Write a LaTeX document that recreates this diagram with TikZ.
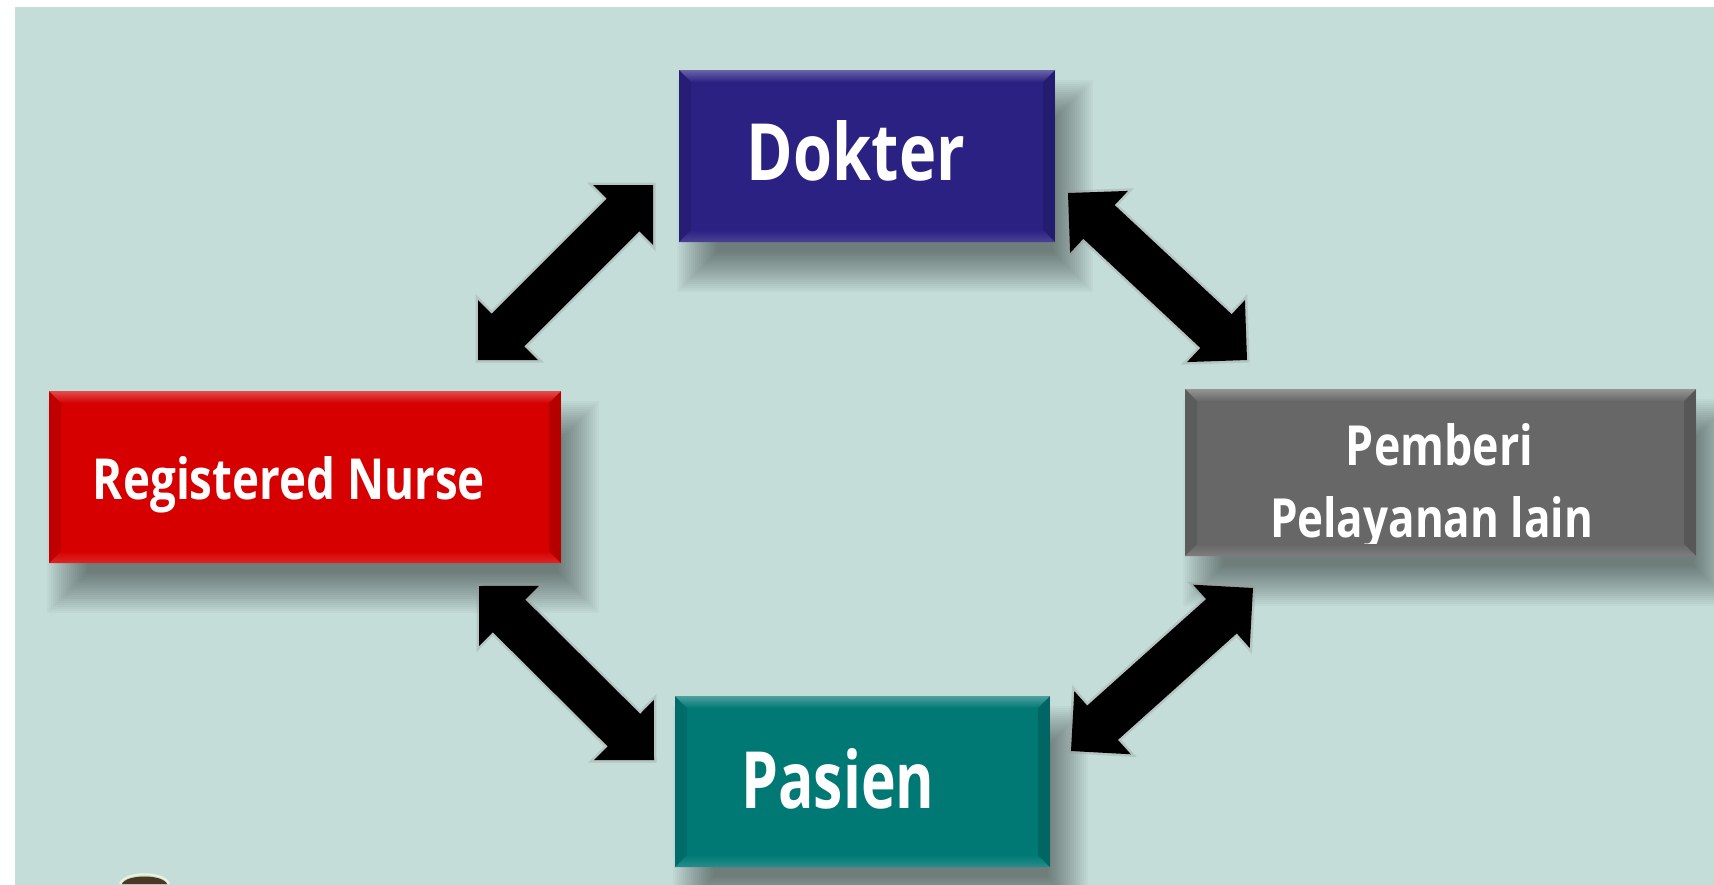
\documentclass[tikz,border=0pt]{standalone}
\usepackage{fontspec}
\newfontfamily\lblfont{Open Sans}
\usetikzlibrary{calc}
\definecolor{bgteal}{RGB}{196,221,217}
\definecolor{dokblue}{RGB}{43,33,131}
\definecolor{nursered}{RGB}{214,0,0}
\definecolor{pembgrey}{RGB}{103,103,103}
\definecolor{pasteal}{RGB}{0,121,117}
\definecolor{domebrown}{RGB}{75,55,35}

% text placed relative to the node centre: dx, baseline offset (up), width, height, text
\newcommand\placetext[5]{\makebox[0pt]{\raisebox{#2}[0pt][0pt]{\kern#1\resizebox{#3}{#4}{#5}\kern-#1}}}

\tikzset{
  box/.style={rectangle, inner sep=0pt, outer sep=0pt, text=white, font=\lblfont\bfseries},
  dblarrow/.style={fill=black, preaction={draw=gray!80, line width=5pt, opacity=0.35, line join=miter}},
}

\newcommand\bevel[3]{%
  \shade[top color=#2!70!white, bottom color=#2] (#1.north west) -- (#1.north east) -- ([xshift=-#3pt,yshift=-#3pt]#1.north east) -- ([xshift=#3pt,yshift=-#3pt]#1.north west) -- cycle;
  \shade[top color=#2, bottom color=#2!85!white] ([xshift=#3pt,yshift=#3pt]#1.south west) -- ([xshift=-#3pt,yshift=#3pt]#1.south east) -- (#1.south east) -- (#1.south west) -- cycle;
  \fill[black,opacity=0.10] (#1.north west) -- ([xshift=#3pt,yshift=-#3pt]#1.north west) -- ([xshift=#3pt,yshift=#3pt]#1.south west) -- (#1.south west) -- cycle;
  \fill[black,opacity=0.15] (#1.north east) -- ([xshift=-#3pt,yshift=-#3pt]#1.north east) -- ([xshift=-#3pt,yshift=#3pt]#1.south east) -- (#1.south east) -- cycle;
}

% soft shadow from centre (#1,#2) and size #3 x #4
\newcommand\softshadow[4]{%
  \foreach \e in {20,18,...,-20}{%
    \fill[black,opacity=0.024] ({#1-#3/2+18-\e},{#2-#4/2+30-\e}) rectangle ({#1+#3/2+18+\e},{#2+#4/2+30+\e});}}

\newcommand\dbarrow[2]{%
  \path[dblarrow] (#1) -- ($(#1)!60pt!45:(#2)$) -- ($(#1)!48.2pt!28.5:(#2)$) -- ($(#2)!48.2pt!-28.5:(#1)$) -- ($(#2)!60pt!-45:(#1)$) -- (#2) -- ($(#2)!60pt!45:(#1)$) -- ($(#2)!48.2pt!28.5:(#1)$) -- ($(#1)!48.2pt!-28.5:(#2)$) -- ($(#1)!60pt!-45:(#2)$) -- cycle;}

\begin{document}
\begin{tikzpicture}[x=1pt,y=-1pt]
\path[use as bounding box] (0,0) rectangle (1714,884);
\begin{scope}[overlay]
  \fill[white] (0,0) rectangle (1714,884);
  \fill[bgteal] (15,7) rectangle (1760,930);
  \draw[white!85!yellow, line width=2pt, opacity=0.7] (120,884) .. controls (124,871) and (165,871) .. (169,884);
  \fill[domebrown] (122,884) .. controls (126,874) and (163,874) .. (167,884) -- cycle;

  \softshadow{867}{156}{376}{172}
  \softshadow{305}{477}{512}{172}
  \softshadow{1440.5}{472.5}{511}{167}
  \softshadow{862.5}{781.5}{375}{171}

  \node[box, fill=dokblue, minimum width=376pt, minimum height=172pt] (dok) at (867,156)
    {\placetext{-11pt}{-24pt}{218pt}{60pt}{Dokter}};
  \node[box, fill=nursered, minimum width=512pt, minimum height=172pt] (nurse) at (305,477)
    {\placetext{-16pt}{-22pt}{392pt}{43pt}{Registered Nurse}};
  \node[box, fill=pembgrey, minimum width=511pt, minimum height=167pt] (pemb) at (1440.5,472.5)
    {\placetext{-1pt}{7.5pt}{187pt}{42pt}{Pemberi}\placetext{-9pt}{-64.5pt}{323pt}{41pt}{Pelayanan lain}};
  \node[box, fill=pasteal, minimum width=375pt, minimum height=171pt] (pas) at (862.5,781.5)
    {\placetext{-24.5pt}{-26.5pt}{193pt}{60pt}{Pasien}};

  \bevel{dok}{dokblue}{12}
  \bevel{nurse}{nursered}{12}
  \bevel{pemb}{pembgrey}{12}
  \bevel{pas}{pasteal}{12}

  \coordinate (nwA) at (478,360);
  \coordinate (nwB) at (653,185);
  \coordinate (neA) at (1068,193);
  \coordinate (neB) at (1247,360);
  \coordinate (swA) at (479,586);
  \coordinate (swB) at (654,760);
  \coordinate (seA) at (1253,588);
  \coordinate (seB) at (1071,751);

  \dbarrow{nwA}{nwB}
  \dbarrow{neA}{neB}
  \dbarrow{swA}{swB}
  \dbarrow{seA}{seB}
\end{scope}
\end{tikzpicture}
\end{document}
